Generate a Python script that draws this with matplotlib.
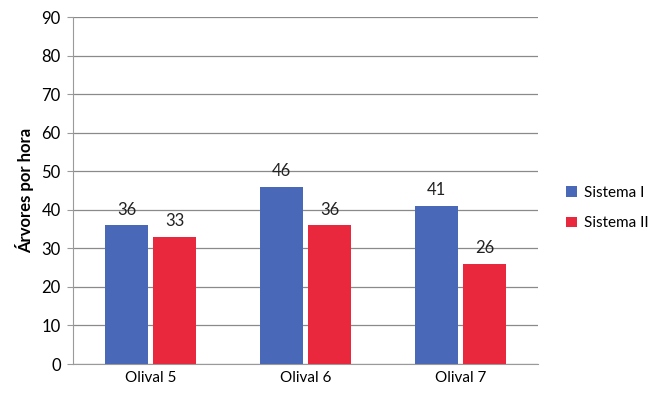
import matplotlib.pyplot as plt
import numpy as np

plt.rcParams['font.family'] = ['Lato', 'DejaVu Sans']

categories = ["Olival 5", "Olival 6", "Olival 7"]
sistema_1 = [36, 46, 41]
sistema_2 = [33, 36, 26]
series_names = ["Sistema I", "Sistema II"]

blue = "#4a68b8"
red = "#e9283d"

fig = plt.figure(figsize=(6.54, 3.97), dpi=100)
ax = fig.add_axes([0.112, 0.083, 0.711, 0.874])

x = np.arange(len(categories))
w = 0.28
gap = 0.015
b1 = ax.bar(x - w/2 - gap, sistema_1, w, color=blue, label=series_names[0], zorder=3)
b2 = ax.bar(x + w/2 + gap, sistema_2, w, color=red, label=series_names[1], zorder=3)

for bars in (b1, b2):
	for b in bars:
		ax.text(b.get_x() + b.get_width()/2, b.get_height() + 2.0, "%d" % b.get_height(),
			ha="center", va="bottom", fontsize=12, color="#222222")

ax.set_ylim(0, 90)
ax.set_yticks(range(0, 91, 10))
ax.set_xlim(-0.5, 2.5)
ax.set_xticks(x)
ax.set_xticklabels(categories)
ax.yaxis.grid(True, color="#8a8a8a", linewidth=0.9, zorder=0)
ax.set_axisbelow(True)
for s in ("top", "right"):
	ax.spines[s].set_visible(False)
ax.spines["left"].set_color("#9a9a9a")
ax.spines["bottom"].set_color("#9a9a9a")
ax.tick_params(axis="y", length=4, color="#9a9a9a", labelsize=12, pad=5)
ax.tick_params(axis="x", length=0, labelsize=11, pad=5)
ax.set_ylabel("Árvores por hora", fontsize=12, fontweight="bold", labelpad=5)

ax.legend(loc="center left", bbox_to_anchor=(1.03, 0.45), frameon=False,
	fontsize=11, handlelength=0.7, handleheight=0.7, labelspacing=1.1, handletextpad=0.5)

fig.savefig("out.png", dpi=100)
